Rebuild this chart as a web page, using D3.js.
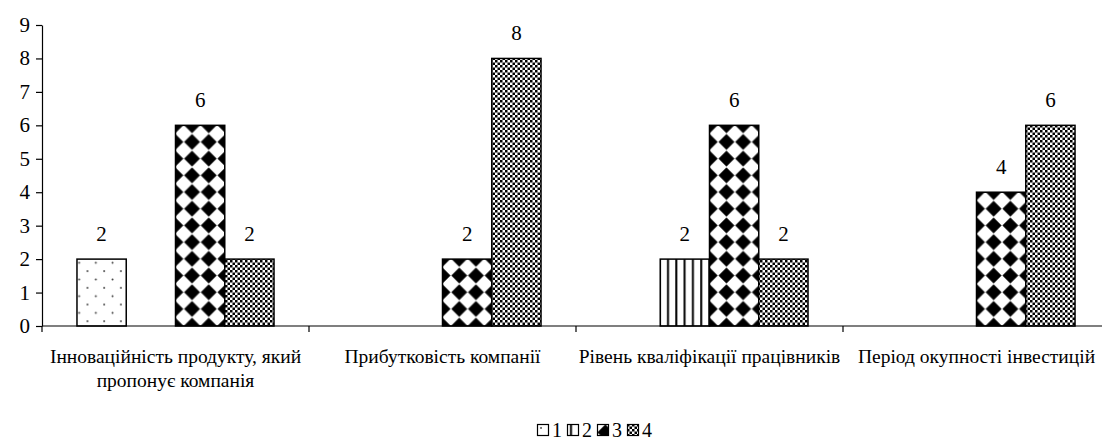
<!DOCTYPE html>
<html>
<head>
<meta charset="utf-8">
<script src="https://cdn.jsdelivr.net/npm/d3@7/dist/d3.min.js"></script>
</head>
<body style="margin:0">
<svg id="chart" width="1102" height="443"></svg>
<script>
// Criteria (categories) and number of responses per answer option
const categories = [
  ["Інноваційність продукту, який", "пропонує компанія"],
  ["Прибутковість компанії"],
  ["Рівень кваліфікації працівників"],
  ["Період окупності інвестицій"]
];
const seriesNames = ["1", "2", "3", "4"];
const series1 = [2, 0, 0, 0];
const series2 = [0, 0, 2, 0];
const series3 = [6, 2, 6, 4];
const series4 = [2, 8, 2, 6];
const yTicks = [0, 1, 2, 3, 4, 5, 6, 7, 8, 9];

const allSeries = [series1, series2, series3, series4];
const FONT = '"Liberation Serif"';

const svg = d3.select("#chart");
const margin = { left: 42, top: 25, bottom: 117 };
const plotBottom = 443 - margin.bottom; // 326
const plotRight = margin.left + 4 * 267;

const catKeys = categories.map((c, i) => i);
const x0 = d3.scaleBand().domain(catKeys).range([margin.left, plotRight]).padding(0);
const x1 = d3.scaleBand().domain(seriesNames).range([0, x0.bandwidth()])
  .paddingInner(0).paddingOuter(0.71);
const y = d3.scaleLinear().domain([0, 9]).range([plotBottom, margin.top]);

// Fill patterns for the four answer options
const defs = svg.append("defs");
const s = 16.7;
const pDots = defs.append("pattern").attr("id", "pat1")
  .attr("patternUnits", "userSpaceOnUse").attr("width", s).attr("height", s);
pDots.append("rect").attr("width", s).attr("height", s).attr("fill", "#fff");
pDots.append("circle").attr("cx", 4).attr("cy", 4).attr("r", 1).attr("fill", "#444");
pDots.append("circle").attr("cx", 4 + s / 2).attr("cy", 4 + s / 2).attr("r", 1).attr("fill", "#444");

const pStripes = defs.append("pattern").attr("id", "pat2")
  .attr("patternUnits", "userSpaceOnUse").attr("width", 8.3).attr("height", 8);
pStripes.append("rect").attr("width", 8.3).attr("height", 8).attr("fill", "#fff");
pStripes.append("rect").attr("x", 3).attr("width", 2).attr("height", 8).attr("fill", "#000");

const pDiam = defs.append("pattern").attr("id", "pat3")
  .attr("patternUnits", "userSpaceOnUse").attr("width", s).attr("height", s)
  .attr("x", 0).attr("y", 0);
pDiam.append("rect").attr("width", s).attr("height", s).attr("fill", "#fff");
const h = s / 2, r = 7.6;
pDiam.append("path")
  .attr("d", `M${h},${h - r}L${h + r},${h}L${h},${h + r}L${h - r},${h}Z`)
  .attr("fill", "#000").attr("stroke", "#000").attr("stroke-width", 0.6)
  .attr("stroke-linejoin", "round");

const pCheck = defs.append("pattern").attr("id", "pat4")
  .attr("patternUnits", "userSpaceOnUse").attr("width", 5).attr("height", 5);
pCheck.append("rect").attr("width", 5).attr("height", 5).attr("fill", "#fff");
pCheck.append("rect").attr("x", 0).attr("y", 0).attr("width", 2.5).attr("height", 2.5).attr("fill", "#000");
pCheck.append("rect").attr("x", 2.5).attr("y", 2.5).attr("width", 2.5).attr("height", 2.5).attr("fill", "#000");

const fills = ["url(#pat1)", "url(#pat2)", "url(#pat3)", "url(#pat4)"];

// Bars
const rows = [];
catKeys.forEach(ci => {
  seriesNames.forEach((sn, si) => {
    rows.push({ ci, sn, si, v: allSeries[si][ci] });
  });
});
const bars = rows.filter(d => d.v > 0);

svg.append("g").selectAll("rect").data(bars).join("rect")
  .attr("x", d => x0(d.ci) + x1(d.sn))
  .attr("y", d => y(d.v))
  .attr("width", x1.bandwidth())
  .attr("height", d => y(0) - y(d.v))
  .attr("fill", d => fills[d.si])
  .attr("stroke", "#000")
  .attr("stroke-width", 1.5);

// Value labels
svg.append("g").selectAll("text").data(bars).join("text")
  .attr("x", d => x0(d.ci) + x1(d.sn) + x1.bandwidth() / 2)
  .attr("y", d => y(d.v) - 18)
  .attr("text-anchor", "middle")
  .attr("font-size", 21)
  .style("font-family", FONT)
  .text(d => d.v);

// Y axis: ticks drawn by d3, labels added as plain text
const yAxis = svg.append("g").attr("transform", `translate(${margin.left},0)`)
  .call(d3.axisLeft(y).tickValues(yTicks).tickSize(6).tickSizeOuter(0).tickFormat(""));
yAxis.select(".domain").attr("stroke", "#000").attr("stroke-width", 1.2);
yAxis.selectAll(".tick line").attr("stroke", "#000").attr("stroke-width", 1.2);
svg.append("g").selectAll("text").data(yTicks).join("text")
  .attr("x", margin.left - 12)
  .attr("y", d => y(d) + 7)
  .attr("text-anchor", "end")
  .attr("font-size", 21)
  .style("font-family", FONT)
  .text(d => d);

// X axis with ticks between categories
svg.append("line")
  .attr("x1", margin.left).attr("x2", plotRight)
  .attr("y1", y(0)).attr("y2", y(0))
  .attr("stroke", "#000").attr("stroke-width", 1.2);
const bounds = catKeys.map(ci => x0(ci)).concat([plotRight]);
svg.append("g").selectAll("line").data(bounds).join("line")
  .attr("x1", d => d).attr("x2", d => d)
  .attr("y1", y(0)).attr("y2", y(0) + 6)
  .attr("stroke", "#000").attr("stroke-width", 1.2);

// Category labels, one text per line
const catLines = [];
categories.forEach((lines, ci) => lines.forEach((t, li) => catLines.push({ ci, li, t })));
svg.append("g").selectAll("text").data(catLines).join("text")
  .attr("x", d => x0(d.ci) + x0.bandwidth() / 2)
  .attr("y", d => 363 + d.li * 24)
  .attr("text-anchor", "middle")
  .attr("font-size", 19.5)
  .style("font-family", FONT)
  .text(d => d.t);

// Legend
const legend = svg.append("g").attr("transform", "translate(537,424)");
const legendStep = 30;
seriesNames.forEach((sn, si) => {
  const g = legend.append("g").attr("transform", `translate(${si * legendStep},0)`);
  g.append("rect").attr("x", 0.5).attr("y", 0.5).attr("width", 11).attr("height", 11)
    .attr("fill", fills[si]).attr("stroke", "#000").attr("stroke-width", 1.2);
  g.append("text").attr("x", 15).attr("y", 13)
    .attr("font-size", 20).style("font-family", FONT).text(sn);
});
</script>
</body>
</html>
